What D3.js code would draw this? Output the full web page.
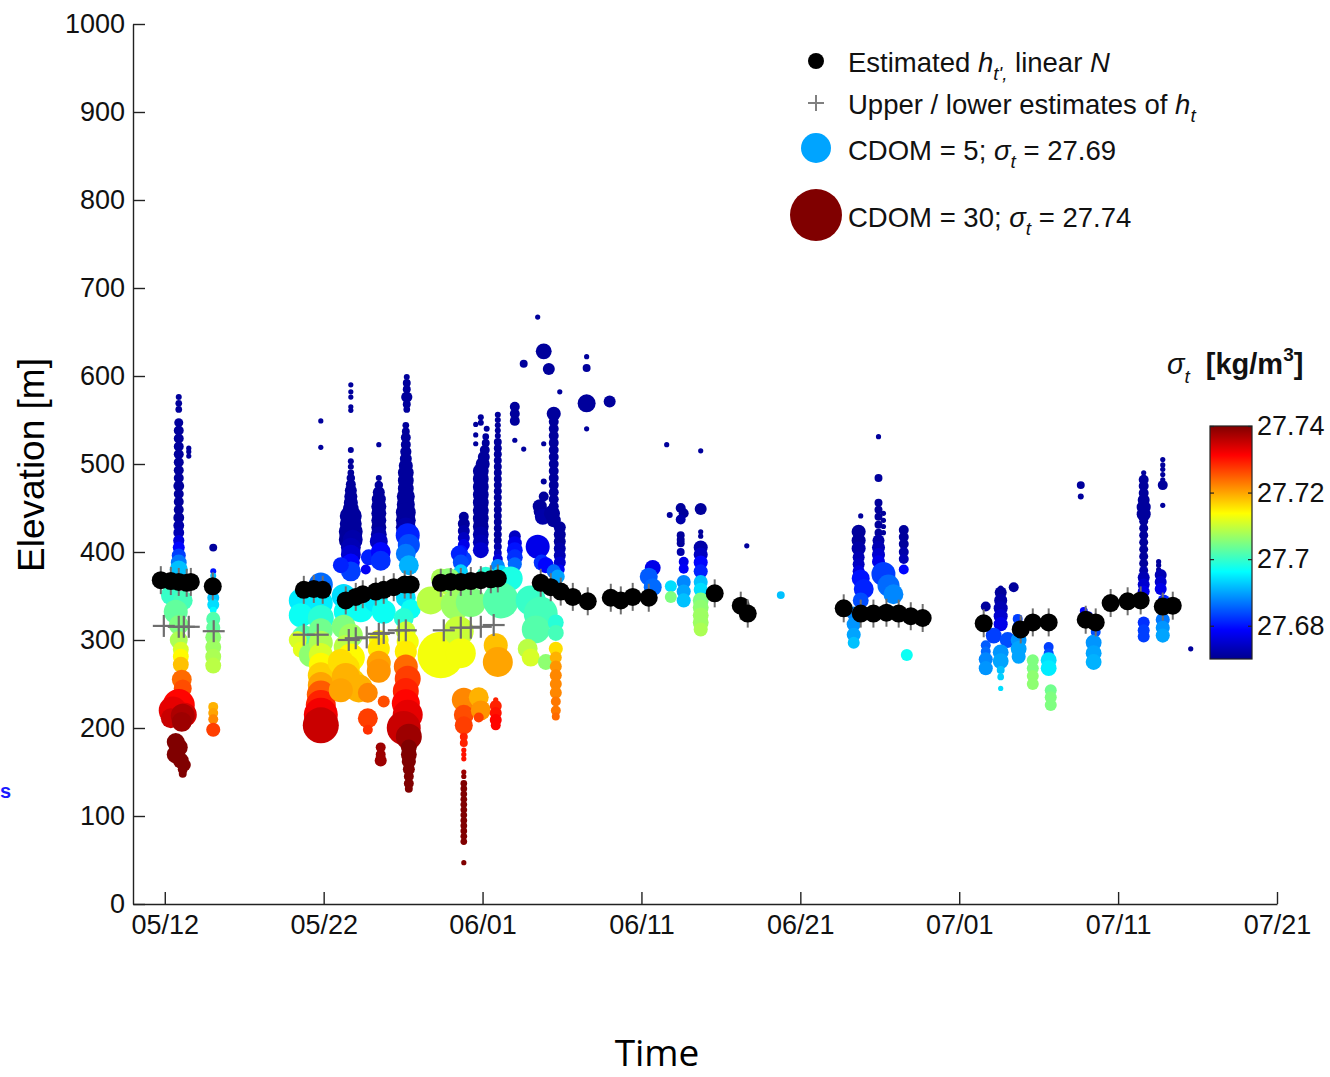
<!DOCTYPE html>
<html>
<head>
<meta charset="utf-8">
<script src="https://cdn.jsdelivr.net/npm/d3@7"></script>
<style>
  body { margin: 0; background: #fff; }
  svg { display: block; }
</style>
</head>
<body>
<svg id="chart" width="1330" height="1077"></svg>
<script>
// time axis in days after 30 April 2013 (12 = 05/12, 32 = 06/01 ...)
const timeDomain = [10, 82];
const timeTicks = [12, 22, 32, 42, 52, 62, 72, 82];
const elevationTicks = [0, 100, 200, 300, 400, 500, 600, 700, 800, 900, 1000];
const sigmaRange = [27.67, 27.74];
const sigmaTicks = [27.68, 27.7, 27.72, 27.74];
const cdomRange = [0, 30];

// samples: [day, elevation m, CDOM, sigma_t]
const samples = [
  // 05/12 - 05/13
  [12.88,576,0.4,27.671],[12.88,569,0.5,27.671],[12.88,562,0.5,27.671],[12.88,547,0.9,27.671],
  [12.88,538,1.1,27.671],[12.88,529,1.1,27.671],[12.88,520,1.1,27.671],[12.88,511,1.1,27.671],
  [12.88,502,1.1,27.671],[12.88,493,1.1,27.671],[12.88,484,1.1,27.671],[12.88,475,1.3,27.671],
  [12.88,466,1.1,27.671],[12.88,457,1.1,27.671],[12.88,448,1.1,27.671],[12.88,439,1.3,27.671],
  [12.88,430,1.3,27.672],[12.88,422,1.3,27.673],[12.88,413,1.4,27.676],[12.88,405,1.6,27.679],
  [12.88,396,2.2,27.683],[12.88,388,2.8,27.687],[12.88,380,3.6,27.692],
  [13.51,518,0.3,27.671],[13.51,514,0.3,27.671],[13.51,509,0.3,27.671],
  [12.38,351,4.4,27.700],[13.13,345,4.4,27.701],[12.69,332,6.4,27.703],[12.88,317,4.4,27.705],
  [12.88,300,3.6,27.708],[13.01,289,2.8,27.711],[13.01,281,2.8,27.714],[13.01,272,2.8,27.718],
  [13.07,255,4.4,27.724],[13.13,245,3.6,27.726],[12.88,226,11.4,27.731],[12.50,220,8.7,27.733],
  [13.26,215,6.4,27.734],[12.38,211,4.4,27.735],[13.13,214,6.4,27.737],[13.07,207,4.4,27.738],
  [12.69,184,3.6,27.74],[12.88,178,3.6,27.74],[12.69,170,3.6,27.74],[13.01,163,2.8,27.74],
  [13.26,158,1.6,27.74],[13.13,153,1.1,27.74],[13.13,148,0.7,27.74],
  // 05/15
  [15.05,405,0.7,27.671],[15.05,378,0.4,27.680],[15.05,373,0.4,27.692],[15.05,348,1.6,27.692],
  [15.05,340,1.6,27.694],[15.05,334,0.5,27.696],[15.05,324,2.2,27.702],[15.05,314,2.2,27.703],
  [15.05,303,2.8,27.706],[15.05,292,2.8,27.707],[15.05,281,2.8,27.708],[15.05,271,2.8,27.709],
  [15.05,224,1.1,27.719],[15.05,217,1.1,27.720],[15.05,210,1.1,27.722],[15.05,198,2.2,27.727],
  // 05/21 - 05/22
  [21.82,549,0.3,27.671],[21.82,519,0.3,27.671],[21.82,363,6.4,27.686],
  [20.56,345,6.4,27.695],[21.69,342,8.7,27.695],[20.56,328,6.4,27.697],[21.82,325,7.5,27.699],
  [20.75,303,6.4,27.702],[20.37,300,3.6,27.711],[20.56,289,2.8,27.712],[21.19,283,6.4,27.706],
  [21.82,311,6.4,27.704],[21.82,297,6.4,27.708],[21.82,283,6.4,27.711],[21.82,272,6.4,27.714],
  [21.82,260,7.5,27.717],[21.82,249,7.5,27.720],[21.82,238,8.7,27.725],[21.82,226,10,27.729],
  [21.82,215,12.8,27.732],[21.82,203,14.4,27.735],
  // 05/23 - 05/24
  [23.71,590,0.3,27.671],[23.71,582,0.3,27.671],[23.71,576,0.3,27.671],[23.71,565,0.3,27.671],
  [23.71,561,0.3,27.671],[23.71,516,0.4,27.671],[23.71,503,0.4,27.671],[23.71,497,0.4,27.671],
  [23.71,490,0.5,27.671],[23.71,484,0.8,27.671],[23.71,477,1.1,27.671],[23.71,470,1.6,27.671],
  [23.71,463,1.9,27.671],[23.71,456,2.2,27.671],[23.71,449,2.8,27.671],[23.58,441,3.6,27.671],
  [23.83,441,3.6,27.671],[23.58,432,3.6,27.671],[23.83,432,3.6,27.671],[23.58,423,4.4,27.671],
  [23.83,423,4.4,27.671],[23.58,414,4.4,27.671],[23.83,414,4.4,27.672],[23.71,405,4.4,27.673],
  [23.71,397,4.4,27.675],[23.71,388,3.6,27.679],[23.71,378,4.4,27.683],[23.08,385,2.8,27.681],
  [23.26,350,6.4,27.694],[24.02,345,6.4,27.695],[23.39,332,6.4,27.697],[24.33,335,7.5,27.697],
  [23.26,315,6.4,27.705],[23.71,305,6.4,27.707],[23.39,292,6.4,27.709],[23.71,280,8.7,27.714],
  [23.08,275,7.5,27.716],[23.39,268,8.7,27.716],[23.71,251,10,27.717],[23.39,258,8.7,27.719],
  [24.21,245,8.7,27.719],[23.08,243,6.4,27.720],
  // 05/25
  [25.47,522,0.3,27.671],[25.47,484,0.4,27.671],[25.47,476,0.8,27.671],[25.47,468,1.6,27.671],
  [25.47,460,2.2,27.671],[25.47,452,2.5,27.671],[25.47,444,2.5,27.671],[25.47,436,2.5,27.671],
  [25.47,428,2.5,27.671],[25.47,420,2.8,27.672],[25.47,412,3.6,27.674],[24.84,394,2.8,27.681],
  [25.59,400,4.4,27.679],[25.59,390,4.4,27.682],[24.65,380,1.1,27.678],
  [25.28,345,6.4,27.695],[25.78,332,6.4,27.697],[25.47,300,4.4,27.713],[25.47,290,5.4,27.715],
  [25.47,274,6.4,27.720],[25.47,265,6.4,27.721],[24.78,240,4.4,27.722],[24.78,211,4.4,27.727],
  [24.78,198,1.1,27.728],[25.78,230,1.6,27.726],[25.59,178,1.1,27.738],[25.59,170,1.1,27.738],
  [25.59,163,1.6,27.738],
  // 05/27
  [27.23,599,0.4,27.671],[27.23,592,0.7,27.671],[27.23,585,0.7,27.671],[27.23,576,1.4,27.671],
  [27.23,568,0.7,27.671],[27.23,562,0.5,27.671],[27.17,544,0.5,27.671],[27.17,537,0.7,27.671],
  [27.17,530,1.1,27.671],[27.17,522,1.1,27.671],[27.17,514,1.4,27.671],[27.17,506,1.6,27.671],
  [27.17,498,2.2,27.671],[27.17,490,2.8,27.671],[27.17,481,2.8,27.671],[27.17,472,2.8,27.671],
  [27.17,463,3.6,27.671],[27.17,454,3.6,27.671],[27.17,445,4.4,27.671],[27.17,436,4.4,27.671],
  [27.17,428,4.4,27.672],[27.29,419,6.4,27.681],[27.36,408,5.4,27.684],[27.17,398,4.4,27.687],
  [27.36,385,4.4,27.691],[27.17,348,4.4,27.694],[27.48,335,4.4,27.697],[27.04,325,4.4,27.699],
  [27.17,310,4.4,27.710],[27.29,298,5.4,27.713],[27.17,287,5.4,27.715],[27.17,270,6.4,27.724],
  [27.29,256,7.5,27.727],[27.17,242,7.5,27.729],[27.17,228,8.7,27.731],[27.29,215,10,27.733],
  [27.04,200,12.8,27.735],[27.36,190,7.5,27.738],[27.36,178,2.8,27.74],[27.36,170,2.8,27.74],
  [27.36,162,2.2,27.74],[27.36,153,1.6,27.74],[27.36,145,1.1,27.74],[27.36,137,1.1,27.74],
  [27.36,131,0.7,27.74],
  // 05/30 - 06/05
  [31.57,545,0.3,27.671],[31.89,553,0.4,27.671],[31.89,547,0.4,27.671],[31.57,533,0.3,27.671],
  [31.57,523,0.3,27.671],[32.26,540,0.4,27.671],
  [32.20,531,0.5,27.671],[32.20,524,0.7,27.671],[32.14,516,1.1,27.671],[32.08,508,1.6,27.671],
  [32.01,500,2.2,27.671],[31.89,492,2.8,27.671],[31.89,483,2.8,27.671],[31.89,474,2.8,27.671],
  [31.89,465,2.8,27.671],[31.89,456,2.8,27.671],[31.89,447,2.8,27.671],[31.89,438,2.8,27.671],
  [31.89,429,2.8,27.671],[31.89,420,2.8,27.672],[31.89,411,2.8,27.673],[31.89,402,2.8,27.675],
  [32.96,556,0.4,27.671],[32.96,550,0.4,27.671],[32.96,544,0.4,27.671],[32.96,538,0.4,27.671],
  [32.96,532,0.4,27.671],[32.96,525,0.7,27.671],[32.96,518,0.7,27.671],[32.96,511,0.7,27.671],
  [32.96,504,0.7,27.671],[32.96,497,0.7,27.671],[32.96,490,0.7,27.671],[32.96,483,0.7,27.671],
  [32.96,476,0.7,27.671],[32.96,469,0.7,27.671],[32.96,462,0.7,27.671],[32.96,455,0.7,27.671],
  [32.96,448,0.7,27.671],[32.96,441,0.7,27.671],[32.96,434,0.7,27.671],[32.96,427,0.7,27.671],
  [32.96,420,0.7,27.671],[32.96,413,0.7,27.671],[32.96,406,0.7,27.672],[32.96,399,0.7,27.674],
  [32.96,392,1.1,27.676],
  [30.82,440,1.1,27.671],[30.82,432,1.6,27.671],[30.82,424,1.6,27.672],[30.82,416,1.6,27.674],
  [30.82,408,1.6,27.677],[30.63,400,2.2,27.680],[30.82,392,2.8,27.683],[30.50,398,2.8,27.681],
  [30.63,388,2.8,27.684],[30.63,378,2.2,27.693],[32.96,384,2.2,27.688],[33.15,376,2.8,27.694],
  [34.03,565,1.1,27.671],[34.03,557,1.1,27.671],[34.03,549,1.1,27.671],[34.03,527,0.3,27.671],
  [34.59,517,0.3,27.671],[34.03,418,1.6,27.674],[34.03,410,2.2,27.677],[34.03,402,2.8,27.680],
  [34.03,394,2.8,27.682],[34.03,386,2.2,27.686],
  [35.66,446,2.2,27.671],[35.60,452,2.2,27.671],[35.79,440,2.8,27.672],[35.85,463,1.1,27.671],
  [35.85,480,0.4,27.671],[35.85,523,0.3,27.671],[35.47,406,6.4,27.677],[35.72,388,2.8,27.682],
  [36.48,557,2.2,27.671],[36.48,548,1.1,27.671],[36.48,540,1.1,27.671],[36.48,532,1.1,27.671],
  [36.48,524,1.1,27.671],[36.48,516,1.1,27.671],[36.48,508,1.1,27.671],[36.48,500,1.1,27.671],
  [36.48,492,1.1,27.671],[36.48,484,1.1,27.671],[36.48,476,1.1,27.671],[36.48,468,1.1,27.671],
  [36.48,460,1.1,27.671],[36.48,452,1.1,27.671],[36.48,444,1.6,27.671],[36.48,436,2.2,27.671],
  [36.36,444,2.8,27.671],
  [36.86,428,1.6,27.671],[36.86,420,1.6,27.671],[36.86,412,1.6,27.671],[36.86,404,1.6,27.672],
  [36.86,396,1.6,27.673],[36.86,388,1.6,27.675],[36.86,380,1.1,27.678],
  [35.47,667,0.3,27.671],[35.85,628,2.8,27.671],[36.17,608,1.6,27.671],[34.59,614,0.7,27.671],
  [36.86,582,0.3,27.671],[38.55,622,0.3,27.671],[38.55,609,0.7,27.671],[38.55,569,3.6,27.671],
  [40.00,571,1.6,27.671],[38.55,540,0.3,27.671],
  [29.37,370,4.4,27.708],[30.00,362,5.4,27.709],[29.87,368,6.4,27.706],[32.20,372,4.4,27.699],
  [33.30,366,5.4,27.700],[33.77,370,6.4,27.698],
  [28.74,345,8.7,27.709],[30.31,340,10,27.707],[31.26,343,10,27.705],[33.15,345,14.4,27.702],
  [29.37,283,24,27.713],[30.50,310,10,27.710],[30.63,285,10,27.713],[32.83,294,6.4,27.718],
  [32.96,275,10,27.720],[30.82,232,6.4,27.722],[30.82,215,4.4,27.726],[30.82,203,3.6,27.727],
  [30.82,190,0.7,27.729],[30.82,183,0.7,27.729],[30.82,175,0.3,27.730],[30.82,170,0.3,27.730],
  [30.82,165,0.3,27.730],[30.82,150,0.3,27.738],[30.82,145,0.3,27.739],
  [30.82,137,0.5,27.74],[30.82,131,0.5,27.74],[30.82,125,0.5,27.74],[30.82,119,0.5,27.74],
  [30.82,113,0.5,27.74],[30.82,107,0.5,27.74],[30.82,101,0.5,27.74],[30.82,95,0.5,27.74],
  [30.82,89,0.5,27.74],[30.82,83,0.5,27.74],[30.82,77,0.5,27.74],[30.82,71,0.5,27.74],
  [30.82,47,0.3,27.74],
  [31.76,235,4.4,27.719],[31.89,220,4.4,27.721],[31.76,212,1.1,27.727],[32.83,232,0.3,27.729],
  [32.83,225,1.6,27.729],[32.83,217,1.6,27.730],[32.83,209,1.6,27.731],[32.83,203,1.1,27.731],
  [35.03,345,10,27.700],[35.66,330,12.8,27.701],[35.35,312,8.7,27.702],[34.84,290,4.4,27.709],
  [35.03,280,3.6,27.711],[35.98,275,2.8,27.706],[36.61,320,2.8,27.699],[36.61,308,2.8,27.701],
  [36.61,290,2.2,27.716],[36.61,280,1.6,27.719],[36.61,270,1.6,27.721],[36.61,260,1.6,27.722],
  [36.61,250,1.6,27.722],[36.61,240,1.6,27.722],[36.61,230,1.1,27.723],[36.61,220,1.1,27.723],
  [36.61,213,0.7,27.724],[35.98,385,2.8,27.679],[36.48,378,2.2,27.686],[36.73,372,2.2,27.690],
  // 06/11 - 06/18
  [43.59,522,0.3,27.671],[45.73,515,0.3,27.671],[43.78,442,0.4,27.671],[44.47,450,1.1,27.671],
  [44.66,444,1.1,27.671],[44.47,437,1.1,27.672],[45.73,449,1.6,27.671],[45.73,423,0.3,27.671],
  [45.73,418,0.3,27.671],[44.47,419,0.7,27.671],[44.47,414,0.7,27.671],[44.47,410,0.7,27.671],
  [44.47,400,0.7,27.672],[45.73,405,2.2,27.672],[45.73,397,2.2,27.674],[44.66,389,1.1,27.677],
  [44.66,381,1.1,27.678],[45.73,388,2.2,27.679],[45.73,378,2.2,27.681],[42.71,382,2.8,27.677],
  [42.46,372,3.6,27.685],[42.71,360,3.6,27.686],[43.85,361,1.6,27.694],[43.85,349,1.6,27.705],
  [44.66,366,2.2,27.688],[44.66,355,2.2,27.690],[44.66,345,2.2,27.692],[45.73,366,2.2,27.692],
  [45.73,357,2.2,27.694],[45.73,345,2.8,27.705],[45.73,337,2.8,27.706],[45.73,328,2.8,27.707],
  [45.73,320,2.8,27.707],[45.73,312,2.2,27.708],[48.63,407,0.3,27.671],[50.77,351,0.7,27.692],
  // 06/23 - 06/27
  [56.92,531,0.3,27.671],[56.92,484,0.7,27.671],[55.80,441,0.3,27.671],[56.92,456,0.7,27.671],
  [56.92,448,0.7,27.671],[56.92,440,0.7,27.671],[56.92,431,0.7,27.671],[56.92,422,0.7,27.671],
  [57.23,444,0.3,27.671],[57.23,436,0.3,27.671],[57.23,429,0.3,27.671],[57.23,422,0.3,27.671],
  [55.67,423,2.2,27.671],[55.67,413,2.2,27.671],[55.67,404,2.2,27.672],[55.67,394,1.6,27.673],
  [55.67,386,1.6,27.674],[55.67,378,1.6,27.676],[56.92,413,1.6,27.672],[56.92,405,1.9,27.673],
  [56.92,397,1.9,27.675],[56.92,389,1.9,27.677],[58.51,425,1.1,27.671],[58.51,417,1.1,27.671],
  [58.51,409,1.1,27.671],[58.51,400,1.1,27.672],[58.51,392,1.1,27.673],[58.51,380,1.1,27.679],
  [55.80,370,3.6,27.680],[55.99,358,4.4,27.681],[55.80,345,2.8,27.684],[55.36,330,2.2,27.688],
  [55.36,318,2.2,27.689],[55.36,306,2.2,27.690],[55.36,297,1.6,27.692],[57.23,375,6.4,27.683],
  [57.55,362,5.4,27.686],[57.86,352,4.4,27.688],[58.70,283,1.6,27.697],
  // 07/01 - 07/06
  [63.67,338,1.1,27.671],[64.61,359,0.3,27.671],[64.61,354,1.6,27.671],[64.61,345,1.9,27.672],
  [64.61,336,2.2,27.673],[64.61,327,2.2,27.675],[64.61,318,2.2,27.677],[64.17,305,2.8,27.683],
  [65.05,300,2.8,27.684],[63.67,294,1.1,27.685],[63.67,287,1.1,27.686],[63.67,278,2.2,27.688],
  [63.67,268,2.2,27.689],[64.61,286,2.8,27.689],[64.61,276,2.8,27.690],[64.61,266,0.7,27.692],
  [64.61,258,0.5,27.693],[64.61,245,0.3,27.694],[65.43,360,1.1,27.671],[65.68,324,1.1,27.683],
  [65.68,316,1.1,27.684],[65.74,300,2.8,27.689],[65.74,290,2.8,27.690],[65.74,281,2.2,27.690],
  [66.63,277,1.6,27.705],[66.63,268,1.6,27.705],[66.63,259,1.6,27.706],[66.63,250,1.6,27.706],
  [67.63,292,1.1,27.683],[67.63,285,1.1,27.684],[67.63,277,2.8,27.694],[67.63,268,2.8,27.695],
  [67.76,243,1.6,27.704],[67.76,235,1.6,27.705],[67.76,226,1.6,27.705],
  // 07/08 - 07/16
  [69.65,476,0.7,27.671],[69.65,463,0.4,27.671],[69.84,333,0.7,27.679],[70.15,328,0.7,27.680],
  [70.59,316,1.1,27.683],[70.59,309,1.1,27.684],[70.46,297,2.8,27.689],[70.46,285,2.8,27.690],
  [70.46,275,2.8,27.691],[73.61,490,0.3,27.671],
  [73.61,482,1.1,27.671],[73.61,475,1.1,27.671],[73.61,467,1.1,27.671],[73.61,459,1.6,27.671],
  [73.61,451,2.2,27.671],[73.61,443,2.2,27.671],[73.61,435,0.9,27.671],[73.61,427,0.9,27.671],
  [73.61,419,0.9,27.671],[73.61,411,0.9,27.671],[73.61,403,0.9,27.671],[73.61,395,0.9,27.671],
  [73.61,387,0.9,27.671],[73.61,379,0.9,27.672],[73.61,371,1.6,27.673],[73.61,363,1.6,27.675],
  [73.61,355,1.6,27.677],[73.61,320,1.6,27.682],[73.61,311,1.6,27.683],[73.61,304,1.6,27.683],
  [74.81,505,0.3,27.671],[74.81,499,0.3,27.671],[74.81,494,0.3,27.671],[74.81,488,0.3,27.671],
  [74.81,482,0.3,27.671],[74.81,476,1.1,27.671],[74.81,453,0.3,27.671],[74.55,389,0.3,27.671],
  [74.55,385,0.3,27.671],[74.55,380,0.3,27.671],[74.68,374,1.6,27.673],[74.68,366,1.6,27.675],
  [74.68,358,1.6,27.677],[74.87,345,1.6,27.681],[74.87,337,1.6,27.683],[74.81,323,2.2,27.687],
  [74.81,314,2.2,27.689],[74.81,305,2.2,27.690],[76.57,290,0.3,27.671]
];

// estimated h_t, linear N: [day, elevation m]
const htEstimate = [
  [11.75,368],[12.38,367],[12.88,366],[13.38,365],[13.64,366],[15.02,361],
  [20.75,357],[21.38,358],[21.94,357],
  [23.39,345],[24.02,349],[24.46,352],[25.28,355],[25.78,357],[26.41,360],[27.10,363],[27.48,363],
  [29.37,365],[30.00,366],[30.63,366],[31.26,367],[31.89,368],[32.52,369],[32.96,370],
  [35.66,365],[36.29,360],[36.92,355],[37.68,349],[38.62,344],
  [40.07,348],[40.70,345],[41.45,349],[42.46,348],
  [46.61,353],[48.25,339],[48.69,330],
  [54.73,336],[55.80,330],[56.60,330],[57.42,331],[58.19,330],[58.95,327],[59.70,325],
  [63.54,319],[65.87,312],[66.63,320],[67.63,320],
  [69.96,323],[70.59,320],[71.53,342],[72.60,344],[73.42,345],[74.81,338],[75.44,339]
];

// upper / lower estimates of h_t: [day, elevation m]
const htBounds = [
  [11.94,316],[12.88,315],[13.20,315],[13.51,315],[15.08,310],
  [20.75,306],[21.63,306],
  [23.58,300],[24.02,302],[24.71,303],[25.47,307],[25.78,308],[26.73,311],[27.17,311],
  [29.56,311],[30.63,314],[31.26,314],[31.89,315],[32.70,317]
];

const legendCdom = [5, 30];
const legendSigma = [27.69, 27.74];

const W = 1330, H = 1077;
const margin = { left: 133, right: 1277, top: 24, bottom: 904 };
const svg = d3.select('#chart');
const FONT = "'Liberation Sans', Arial, Helvetica, sans-serif";

const toDate = d => new Date(Date.UTC(2013, 3, 30) + d * 864e5);

const x = d3.scaleUtc().domain(timeDomain.map(toDate)).range([margin.left, margin.right]);
const y = d3.scaleLinear().domain([0, 1000]).range([margin.bottom, margin.top]);
const r = d3.scaleSqrt().domain(cdomRange).range([0, 26]);

const jetStops = [0, 0.125, 0.375, 0.625, 0.875, 1];
const jetColors = ['#00008f', '#0000ff', '#00ffff', '#ffff00', '#ff0000', '#800000'];
const color = d3.scaleLinear()
  .domain(jetStops.map(f => sigmaRange[0] + f * (sigmaRange[1] - sigmaRange[0])))
  .range(jetColors).clamp(true);

svg.append('rect').attr('width', W).attr('height', H).attr('fill', '#fff');

// stray blue glyph on the left edge of the slide
svg.append('text').attr('x', 0).attr('y', 798).attr('fill', '#1a1aff')
  .attr('font-family', FONT).attr('font-size', 20).attr('font-weight', 'bold').text('s');

// samples
svg.append('g').selectAll('circle').data(samples).join('circle')
  .attr('cx', d => x(toDate(d[0])))
  .attr('cy', d => y(d[1]))
  .attr('r', d => r(d[2]))
  .attr('fill', d => color(d[3]));

// bounds (+)
const plus = (g, s, sw, col) => {
  g.append('line').attr('x1', -s).attr('x2', s).attr('y1', 0).attr('y2', 0)
    .attr('stroke', col).attr('stroke-width', sw);
  g.append('line').attr('x1', 0).attr('x2', 0).attr('y1', -s).attr('y2', s)
    .attr('stroke', col).attr('stroke-width', sw);
};
svg.append('g').selectAll('g').data(htBounds).join('g')
  .attr('transform', d => `translate(${x(toDate(d[0]))},${y(d[1])})`)
  .each(function () { plus(d3.select(this), 11, 2.2, '#6e6e6e'); });

// estimated h_t
const est = svg.append('g').selectAll('g').data(htEstimate).join('g')
  .attr('transform', d => `translate(${x(toDate(d[0]))},${y(d[1])})`);
est.append('line').attr('x1', 0).attr('x2', 0).attr('y1', -14).attr('y2', 14)
  .attr('stroke', '#707070').attr('stroke-width', 2);
est.append('circle').attr('r', 9).attr('fill', '#000');

// axes
const yAxis = svg.append('g').attr('transform', `translate(${margin.left},0)`)
  .call(d3.axisLeft(y).tickValues(elevationTicks).tickFormat(d3.format('d'))
    .tickSize(-12).tickSizeOuter(0).tickPadding(8));
const xAxis = svg.append('g').attr('transform', `translate(0,${margin.bottom})`)
  .call(d3.axisBottom(x).tickValues(timeTicks.map(toDate)).tickFormat(d3.utcFormat('%m/%d'))
    .tickSize(-12).tickSizeOuter(0).tickPadding(11));
[yAxis, xAxis].forEach(a => {
  a.selectAll('path, line').attr('stroke', '#222').attr('stroke-width', 1.4);
  a.selectAll('text').attr('font-family', FONT).attr('font-size', 27).attr('fill', '#111');
});

svg.append('text')
  .attr('transform', 'translate(44,465) rotate(-90)')
  .attr('text-anchor', 'middle').attr('font-family', FONT).attr('font-size', 37).attr('fill', '#000')
  .text('Elevation [m]');

svg.append('text').attr('x', 657).attr('y', 1066).attr('text-anchor', 'middle')
  .attr('font-family', "'Open Sans', 'Noto Sans', sans-serif").attr('font-size', 37).attr('fill', '#000')
  .text('Time');

// legend
const lg = svg.append('g').attr('font-family', FONT).attr('font-size', 27.5).attr('fill', '#111');
lg.append('circle').attr('cx', 816).attr('cy', 61).attr('r', 8).attr('fill', '#000');
plus(lg.append('g').attr('transform', 'translate(816,103)'), 8, 2, '#808080');
lg.append('circle').attr('cx', 816).attr('cy', 148).attr('r', 15).attr('fill', color(legendSigma[0]));
lg.append('circle').attr('cx', 816).attr('cy', 215).attr('r', 26).attr('fill', color(legendSigma[1]));

const t1 = lg.append('text').attr('x', 848).attr('y', 72);
t1.append('tspan').text('Estimated ');
t1.append('tspan').attr('font-style', 'italic').text('h');
t1.append('tspan').attr('font-style', 'italic').attr('font-size', 19).attr('dy', 8).text("t',");
t1.append('tspan').attr('dy', -8).text(' linear ');
t1.append('tspan').attr('font-style', 'italic').text('N');

const t2 = lg.append('text').attr('x', 848).attr('y', 114);
t2.append('tspan').text('Upper / lower estimates of ');
t2.append('tspan').attr('font-style', 'italic').text('h');
t2.append('tspan').attr('font-style', 'italic').attr('font-size', 19).attr('dy', 8).text('t');

[[160, 0], [227, 1]].forEach(([by, i]) => {
  const t = lg.append('text').attr('x', 848).attr('y', by);
  t.append('tspan').text(`CDOM = ${legendCdom[i]}; `);
  t.append('tspan').attr('font-style', 'italic').text('σ');
  t.append('tspan').attr('font-style', 'italic').attr('font-size', 19).attr('dy', 8).text('t');
  t.append('tspan').attr('dy', -8).text(` = ${legendSigma[i]}`);
});

// colour bar
const cb = d3.scaleLinear().domain(sigmaRange).range([659, 426]);
const defs = svg.append('defs');
const grad = defs.append('linearGradient').attr('id', 'jet')
  .attr('x1', 0).attr('x2', 0).attr('y1', 1).attr('y2', 0);
jetStops.forEach((s, i) => grad.append('stop').attr('offset', s).attr('stop-color', jetColors[i]));
svg.append('rect').attr('x', 1210).attr('y', 426).attr('width', 42).attr('height', 233)
  .attr('fill', 'url(#jet)').attr('stroke', '#222').attr('stroke-width', 1.2);
const cbR = svg.append('g').attr('transform', 'translate(1252,0)')
  .call(d3.axisRight(cb).tickValues(sigmaTicks).tickFormat(d => String(+d.toFixed(2)))
    .tickSize(-4).tickSizeOuter(0).tickPadding(5));
const cbL = svg.append('g').attr('transform', 'translate(1210,0)')
  .call(d3.axisLeft(cb).tickValues(sigmaTicks).tickFormat('').tickSize(-4).tickSizeOuter(0));
[cbR, cbL].forEach(a => {
  a.select('.domain').remove();
  a.selectAll('line').attr('stroke', '#222').attr('stroke-width', 1.2);
  a.selectAll('text').attr('font-family', FONT).attr('font-size', 27).attr('fill', '#111');
});

const ct = svg.append('text').attr('x', 1167).attr('y', 374).attr('font-family', FONT)
  .attr('font-size', 29).attr('fill', '#111');
ct.append('tspan').attr('font-style', 'italic').text('σ');
ct.append('tspan').attr('font-style', 'italic').attr('font-size', 19).attr('dy', 9).text('t');
ct.append('tspan').attr('dy', -9).attr('font-weight', 'bold').attr('dx', 16).text('[kg/m');
ct.append('tspan').attr('font-weight', 'bold').attr('font-size', 19).attr('dy', -13).text('3');
ct.append('tspan').attr('font-weight', 'bold').attr('dy', 13).text(']');
</script>
</body>
</html>
